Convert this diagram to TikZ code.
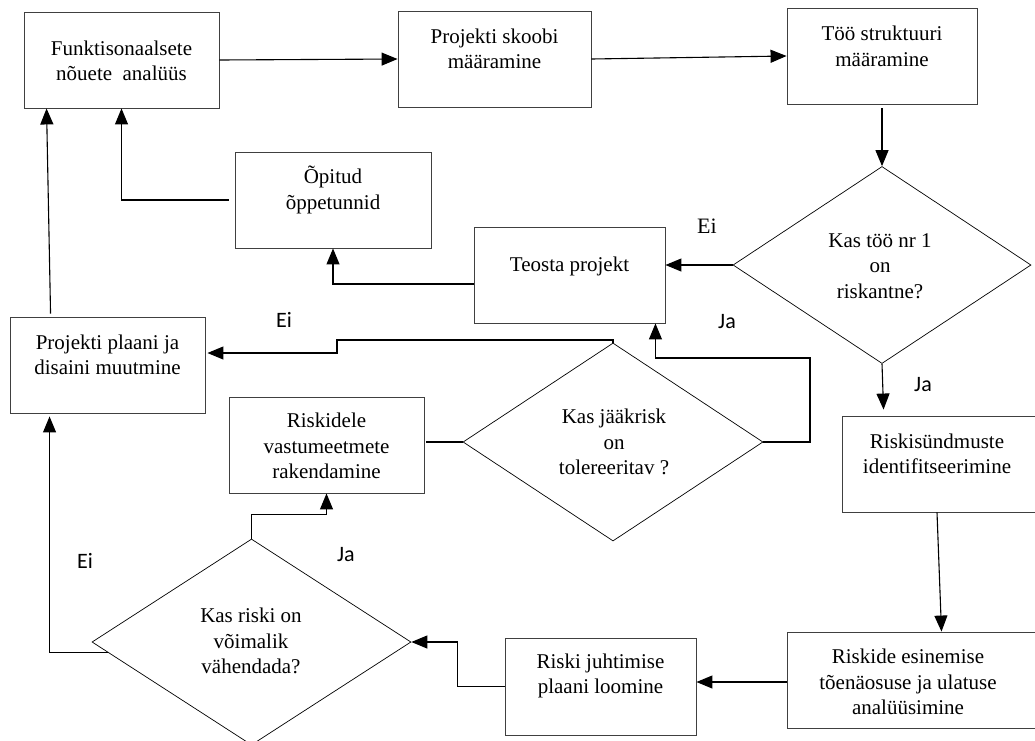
\documentclass[tikz,border=0pt]{standalone}
\usepackage{fontspec}
\setmainfont{Liberation Serif}
\newfontfamily\lblfont{Carlito}
\usetikzlibrary{shapes.geometric,arrows.meta,calc}
\begin{document}
\begin{tikzpicture}[x=1pt,y=-1pt,
  box/.style={draw=black!75, line width=0.9pt, rectangle, inner sep=0pt},
  dia/.style={draw=black, line width=0.7pt, diamond, inner sep=0pt},
  txt/.style={align=center, inner sep=0pt, font=\fontsize{21}{25.5}\selectfont},
  lbl/.style={inner sep=0pt, font=\lblfont\fontsize{22}{25}\selectfont},
  slbl/.style={inner sep=0pt, font=\fontsize{22}{25}\selectfont},
  arr/.style={draw=black, line width=1.1pt, -{Triangle[length=16pt,width=13pt]}},
  ln/.style={draw=black, line width=1.1pt}]
\useasboundingbox (0,0) rectangle (1035,740);
\clip (0,0) rectangle (1035,740);

% boxes
\node[box, minimum width=195pt, minimum height=96pt] (A) at (121.5,60) {};
\node[box, minimum width=193pt, minimum height=96pt] (B) at (494.5,59) {};
\node[box, minimum width=190pt, minimum height=96pt] (C) at (882,56) {};
\node[box, minimum width=196pt, minimum height=96pt] (O) at (333,200) {};
\node[box, minimum width=191pt, minimum height=96pt] (T) at (569.5,275) {};
\node[box, minimum width=195pt, minimum height=96pt] (P) at (107.5,365) {};
\node[box, minimum width=195pt, minimum height=96pt] (R) at (326.5,445) {};
\node[box, minimum width=195pt, minimum height=96pt] (RS) at (939.5,464) {};
\node[box, minimum width=253pt, minimum height=96pt] (RE) at (913.5,680) {};
\node[box, minimum width=191pt, minimum height=97pt] (RJ) at (600.5,686.5) {};

% diamonds
\node[dia, minimum width=298pt, minimum height=197pt] (D1) at (882,265) {};
\node[dia, minimum width=300pt, minimum height=198pt] (D2) at (613,442) {};
\node[dia, minimum width=319pt, minimum height=206pt] (D3) at (251.5,642) {};

% texts
\node[txt] (At) at (121.5,61) {Funktisonaalsete\\nõuete\hspace{0.25em} analüüs};
\node[txt] (Bt) at (494.5,49) {Projekti skoobi\\määramine};
\node[txt] (Ct) at (882,46.5) {Töö struktuuri\\määramine};
\node[txt] (Ot) at (333,190) {Õpitud\\õppetunnid};
\node[txt] (Tt) at (569.5,266) {Teosta projekt};
\node[txt] (Pt) at (107.5,355) {Projekti plaani ja\\disaini muutmine};
\node[txt] (Rt) at (326.5,446) {Riskidele\\vastumeetmete\\rakendamine};
\node[txt] (RSt) at (937,454) {Riskisündmuste\\identifitseerimine};
\node[txt] (REt) at (908,682) {Riskide esinemise\\tõenäosuse ja ulatuse\\analüüsimine};
\node[txt] (RJt) at (600.5,676) {Riski juhtimise\\plaani loomine};
\node[txt] (D1t) at (880,266) {Kas töö nr 1\\on\\riskantne?};
\node[txt] (D2t) at (614,442) {Kas jääkrisk\\on\\tolereeritav ?};
\node[txt] (D3t) at (251,641) {Kas riski on\\võimalik\\vähendada?};

% labels
\node[slbl] (e1) at (707,226) {Ei};
\node[lbl] (j1) at (727,322) {Ja};
\node[lbl] (j2) at (923,385) {Ja};
\node[lbl] (e2) at (284,320) {Ei};
\node[lbl] (e3) at (85,561) {Ei};
\node[lbl] (j3) at (346,555) {Ja};

% connectors
\coordinate (k1) at (337,340);
\coordinate (k2) at (810,358);
\draw[arr] (A.east) -- (B.west);
\draw[arr] (B.east) -- (C.west);
\draw[arr] ([yshift=-4pt]C.south) -- (D1.north);
\draw[arr] (D1.west) -- (D1.west -| T.east);
\draw[arr] ([yshift=-9pt]T.west) -| (O.south);
\draw[arr] ([xshift=-6pt]O.west) -| (A.south);
\draw[arr] ([xshift=41pt,yshift=3pt]P.north west) -- ([xshift=23pt]A.south west);
\draw[arr] (D2.north) |- (k1) |- ([yshift=12pt,xshift=2pt]P.east);
\draw[arr] (D2.east) -| (k2) -| ([xshift=-10pt]T.south east);
\draw[ln] (D2.west) -- ([xshift=2pt]D2.west -| R.east);
\draw[arr] (D3.north) -- ++(0,-24) -| (R.south);
\draw[arr] ($(D3.west)!0.1!(D3.south)$) -| ([xshift=40pt,yshift=-3pt]P.south west);
\draw[arr] (RJ.west) -- ++(-47,0) |- (D3.east);
\draw[arr] ([yshift=-2pt]RE.west) -- ([yshift=-2pt]RE.west -| RJ.east);
\draw[arr] ([xshift=-2.5pt]RS.south) -- ([xshift=28pt]RE.north);
\draw[arr] (D1.south) -- ([xshift=42pt,yshift=6pt]RS.north west);
\end{tikzpicture}
\end{document}
